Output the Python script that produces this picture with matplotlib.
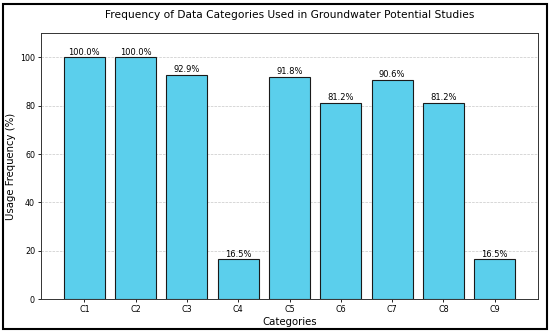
import matplotlib
matplotlib.use("Agg")
import matplotlib.pyplot as plt
from matplotlib.patches import Rectangle

categories = ["C1", "C2", "C3", "C4", "C5", "C6", "C7", "C8", "C9"]
usage = [100.0, 100.0, 92.9, 16.5, 91.8, 81.2, 90.6, 81.2, 16.5]

fig, ax = plt.subplots(figsize=(5.5, 3.32), dpi=100)
fig.subplots_adjust(left=0.075, right=0.978, top=0.900, bottom=0.099)

bars = ax.bar(categories, usage, color="#5bcfec", edgecolor="#1a1a1a", linewidth=0.8)
for b, v in zip(bars, usage):
    ax.text(b.get_x() + b.get_width() / 2, v + 0.3, f"{v:.1f}%",
            ha="center", va="bottom", fontsize=6)

ax.set_ylim(0, 110)
ax.set_title("Frequency of Data Categories Used in Groundwater Potential Studies",
             fontsize=7.7, pad=11)
ax.set_xlabel("Categories", fontsize=7.3, labelpad=2)
ax.set_ylabel("Usage Frequency (%)", fontsize=7.3, labelpad=3)
ax.tick_params(labelsize=5.8, length=2.5, width=0.6, pad=2)
ax.yaxis.grid(True, linestyle="--", linewidth=0.5, alpha=0.7)
ax.set_axisbelow(True)
for s in ax.spines.values():
    s.set_linewidth(0.7)
    s.set_color("#333333")

fig.patches.append(Rectangle((0.006, 0.009), 0.988, 0.979, transform=fig.transFigure,
                             fill=False, edgecolor="black", linewidth=1.5))

fig.savefig("out.png", dpi=100)
